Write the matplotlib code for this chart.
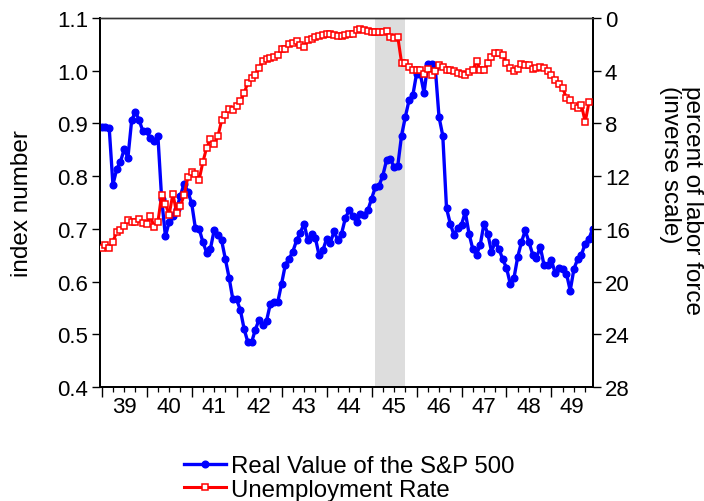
import numpy as np
import matplotlib
matplotlib.use("Agg")
import matplotlib.pyplot as plt
from matplotlib.lines import Line2D

plt.rcParams['font.family'] = ['Liberation Sans', 'DejaVu Sans']

# ---------------- data ----------------
start_year = 1939  # monthly data starting January 1939

# Real value of the S&P 500 (index number), Jan 1939 - Dec 1949
sp500_real = [
    0.893, 0.893, 0.892, 0.784, 0.813, 0.827, 0.851, 0.835, 0.906, 0.922, 0.906, 0.885,  # 1939
    0.885, 0.872, 0.866, 0.876, 0.757, 0.686, 0.713, 0.725, 0.738, 0.763, 0.786, 0.770,  # 1940
    0.749, 0.701, 0.700, 0.675, 0.655, 0.662, 0.697, 0.688, 0.678, 0.642, 0.607, 0.566,  # 1941
    0.566, 0.546, 0.510, 0.485, 0.485, 0.509, 0.528, 0.517, 0.526, 0.558, 0.562, 0.562,  # 1942
    0.596, 0.632, 0.643, 0.657, 0.678, 0.693, 0.710, 0.678, 0.691, 0.683, 0.650, 0.659,  # 1943
    0.681, 0.674, 0.695, 0.678, 0.691, 0.720, 0.735, 0.725, 0.713, 0.729, 0.726, 0.735,  # 1944
    0.757, 0.779, 0.782, 0.801, 0.830, 0.833, 0.817, 0.820, 0.877, 0.912, 0.944, 0.953,  # 1945
    0.994, 0.994, 0.958, 1.013, 1.013, 1.005, 0.912, 0.877, 0.739, 0.710, 0.688, 0.702,  # 1946
    0.708, 0.732, 0.691, 0.662, 0.651, 0.670, 0.710, 0.691, 0.657, 0.675, 0.662, 0.642,  # 1947
    0.626, 0.596, 0.607, 0.647, 0.675, 0.697, 0.675, 0.651, 0.645, 0.666, 0.632, 0.632,  # 1948
    0.640, 0.616, 0.626, 0.624, 0.615, 0.583, 0.624, 0.643, 0.651, 0.672, 0.681, 0.700,  # 1949
]

# Unemployment rate (percent of labor force), Jan 1939 - Nov 1949
unemployment = [
    17.46, 17.26, 17.46, 16.96, 16.24, 16.12, 15.82, 15.36, 15.48, 15.48, 15.23, 15.54,  # 1939
    15.61, 15.03, 15.86, 15.48, 13.41, 14.10, 14.93, 13.34, 14.80, 14.27, 13.41, 12.07,  # 1940
    11.69, 11.82, 12.27, 10.93, 9.84, 9.21, 9.54, 8.99, 7.77, 7.34, 6.88, 7.01,          # 1941
    6.68, 6.33, 5.69, 4.91, 4.55, 4.30, 3.77, 3.26, 3.14, 3.04, 2.95, 2.84,              # 1942
    2.38, 2.33, 1.95, 1.87, 1.78, 2.03, 2.20, 1.70, 1.62, 1.44, 1.37, 1.27,              # 1943
    1.19, 1.19, 1.30, 1.40, 1.40, 1.30, 1.25, 1.19, 0.94, 0.81, 0.94, 0.99,              # 1944
    1.06, 1.06, 1.06, 1.06, 1.02, 1.44, 1.52, 1.44, 3.38, 3.40, 3.70, 3.98,              # 1945
    3.98, 3.98, 4.23, 3.87, 4.30, 4.05, 3.55, 3.75, 3.92, 3.95, 4.02, 4.20,              # 1946
    4.25, 4.30, 4.12, 3.95, 3.30, 3.92, 3.98, 3.43, 2.96, 2.65, 2.62, 2.78,              # 1947
    3.4, 3.8, 4.0, 3.9, 3.5, 3.6, 3.6, 3.9, 3.8, 3.7, 3.8, 4.0,                          # 1948
    4.3, 4.7, 5.0, 5.3, 6.1, 6.2, 6.7, 6.8, 6.6, 7.9, 6.4,                               # 1949
]

recession_start = (1945, 2)   # peak month (year, month)
recession_end = (1945, 10)    # trough month

year_labels = ['39', '40', '41', '42', '43', '44', '45', '46', '47', '48', '49']
left_ticks = [0.4, 0.5, 0.6, 0.7, 0.8, 0.9, 1.0, 1.1]
right_ticks = [0, 4, 8, 12, 16, 20, 24, 28]

series_names = ['Real Value of the S&P 500', 'Unemployment Rate']

# ---------------- figure ----------------
W, H = 704, 502
fig = plt.figure(figsize=(W / 100, H / 100), dpi=100)
L, R, T, B = 100, 593, 19, 388
ax = fig.add_axes([L / W, 1 - B / H, (R - L) / W, (B - T) / H])
ax2 = ax.twinx()

x_sp = start_year + np.arange(len(sp500_real)) / 12.0
x_un = start_year + np.arange(len(unemployment)) / 12.0

xmin = start_year - 0.45 / 12
xmax = start_year + 131.08 / 12
ax.set_xlim(xmin, xmax)

def ym(y, m):
    return y + (m - 1) / 12.0

ax.axvspan(ym(*recession_start), ym(*recession_end), color='#dddddd', lw=0, zorder=0)

blue = '#0000ff'
red = '#ff0000'
ax.plot(x_sp, sp500_real, color=blue, lw=2.4, marker='o', ms=4.8,
        mfc=blue, mec=blue, zorder=3, solid_joinstyle='round')
ax2.plot(x_un, unemployment, color=red, lw=2.2, marker='s', ms=5.0,
         mfc='white', mec=red, mew=1.1, zorder=3)

ax.set_ylim(0.4, 1.1)
ax.set_yticks(left_ticks)
ax.set_yticklabels([f'{v:.1f}' for v in left_ticks])
ax2.set_ylim(28, 0)
ax2.set_yticks(right_ticks)
ax2.set_yticklabels([str(v) for v in right_ticks])

# x ticks: years (major), quarters (minor); labels centered in each year
years = list(range(start_year, start_year + len(year_labels)))
ax.set_xticks(years)
ax.set_xticklabels([])
quarters = [y + q for y in years for q in (0.25, 0.5, 0.75) if y + q < xmax]
ax.set_xticks(quarters, minor=True)

for lab, y in zip(year_labels, years):
    a = max(y, xmin)
    b = min(y + 1, xmax)
    ax.text((a + b) / 2, -0.052, lab, transform=ax.get_xaxis_transform(),
            ha='center', va='center', fontsize=16)

for a_ in (ax, ax2):
    a_.tick_params(axis='y', direction='out', length=5.5, width=1.0, labelsize=16, pad=3)
ax.tick_params(axis='x', which='major', direction='out', length=7, width=1.0)
ax.tick_params(axis='x', which='minor', direction='out', length=3.5, width=0.9)
ax2.tick_params(axis='x', which='both', length=0)

for a_ in (ax, ax2):
    for s in ('left', 'right', 'bottom'):
        a_.spines[s].set_linewidth(1.3)
        a_.spines[s].set_color('black')
    a_.spines['top'].set_linewidth(1.0)
    a_.spines['top'].set_color('#333333')

fig.text(22 / W, 1 - 203.5 / H, 'index number', rotation=90, ha='center', va='center',
         fontsize=17.5)
fig.text(681 / W, 1 - 86 / H, 'percent of labor force\n(inverse scale)', rotation=270,
         ha='center', va='top', multialignment='left', fontsize=17.5, linespacing=1.0)

handles = [
    Line2D([], [], color=blue, lw=2.4, marker='o', ms=4.8, mfc=blue, mec=blue),
    Line2D([], [], color=red, lw=2.2, marker='s', ms=5.0, mfc='white', mec=red, mew=1.1),
]
fig.legend(handles, series_names, loc='center', bbox_to_anchor=(349 / W, 1 - 479 / H),
           frameon=False, fontsize=17.3, handlelength=1.75, handletextpad=0.2,
           labelspacing=0.07, borderpad=0, borderaxespad=0, numpoints=1)

fig.savefig('out.png', dpi=100)
